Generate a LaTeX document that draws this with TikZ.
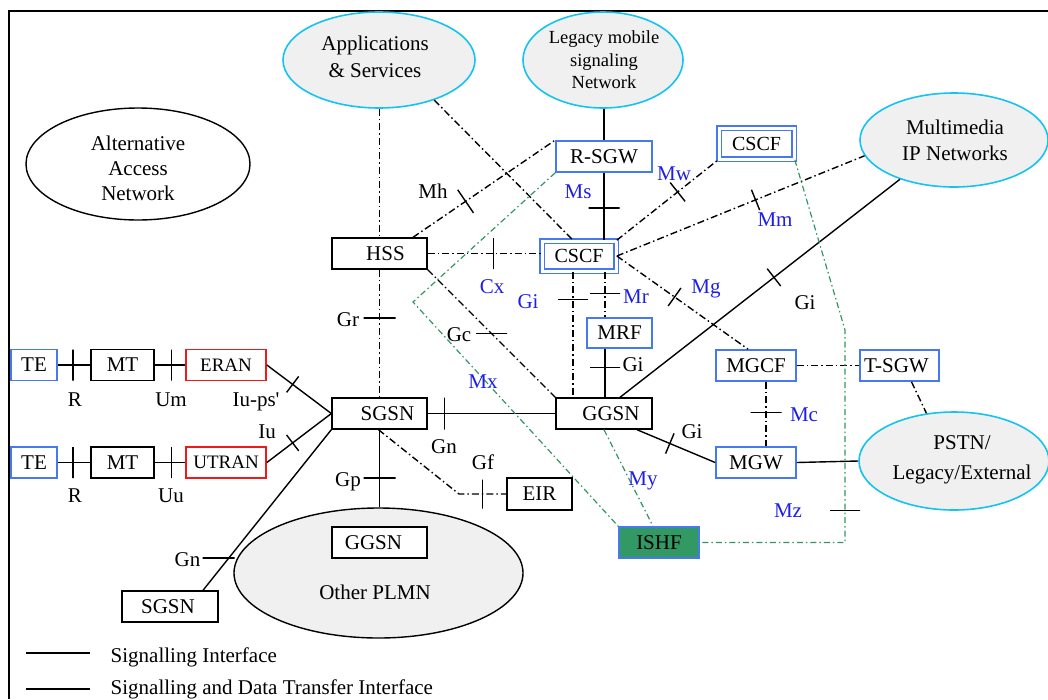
\documentclass[tikz,border=0pt]{standalone}
\usepackage{fontspec}
\setmainfont{Liberation Serif}
\newfontfamily\plainserif{Liberation Serif}[Ligatures=TeXOff]
\usetikzlibrary{shapes.geometric,calc}

\definecolor{boxblue}{RGB}{70,120,240}
\definecolor{lblblue}{RGB}{30,30,235}
\definecolor{netcyan}{RGB}{20,195,240}
\definecolor{netfill}{RGB}{240,240,240}
\definecolor{ifgreen}{RGB}{50,150,100}
\definecolor{ishfgreen}{RGB}{50,152,100}
\definecolor{ranred}{RGB}{240,25,25}

\begin{document}
\begin{tikzpicture}[x=1pt,y=-1pt,
  line width=1.4pt,
  txt/.style={font=\fontsize{21}{25}\selectfont},
  lbl/.style={inner sep=0pt, txt, text height=13.9pt, text depth=0pt},
  blbl/.style={lbl, text=lblblue},
  box/.style={draw, line width=1.4pt, fill=white, inner sep=0pt, txt,
    text height=13.9pt, text depth=0pt, minimum height=31pt, minimum width=#1},
  bbox/.style={box=#1, draw=boxblue, line width=1.7pt},
  rbox/.style={box=#1, draw=ranred, line width=1.7pt,
    font=\fontsize{19}{23}\selectfont, text height=12.6pt},
  dbox/.style={bbox=#1, double=white, double distance=3pt, line width=1.7pt,
    font=\fontsize{20}{24}\selectfont, text height=13.2pt},
  net/.style={ellipse, draw=netcyan, fill=netfill, line width=1.6pt, inner sep=0pt},
  onet/.style={ellipse, draw=black, line width=1.4pt, inner sep=0pt},
  ntxt/.style={align=center, inner sep=0pt},
  dd/.style={dash pattern=on 7pt off 3pt on 1.5pt off 3pt},
  gdd/.style={draw=ifgreen, line width=1.2pt, dash pattern=on 6pt off 3pt on 1.5pt off 3pt},
  xbar/.style={draw=black, solid, line width=1.4pt, sloped, minimum width=0pt,
    minimum height=#1, inner sep=0pt, outer sep=0pt, fill=none},
  hbar/.style={draw=black, solid, line width=1.4pt, minimum width=#1,
    minimum height=0pt, inner sep=0pt, outer sep=0pt, fill=none},
]
\useasboundingbox (0,0) rectangle (1048,699);

% outer frame
\draw[line width=2.2pt] (9,699) -- (9,11) -- (1048,11);

% networks
\node[onet, minimum width=224pt, minimum height=112pt] (alt) at (138,164) {};
\node[ntxt, font=\fontsize{21}{25}\selectfont] (alttxt) at (138,168) {Alternative\\Access\\Network};
\node[net, minimum width=192pt, minimum height=96pt] (apps) at (379,60) {};
\node[ntxt, font=\fontsize{21}{27}\selectfont] (appstxt) at (375,56.5) {Applications\\\& Services};
\node[net, minimum width=160pt, minimum height=96pt] (legacy) at (603,60) {};
\node[ntxt, font=\fontsize{18.5}{22.5}\selectfont] (legacytxt) at (604,60) {Legacy mobile\\signaling\\Network};
\node[net, minimum width=188pt, minimum height=94pt] (mm) at (954,140) {};
\node[ntxt, font=\fontsize{21}{26}\selectfont] (mmtxt) at (955,140) {Multimedia\\IP Networks};
\node[net, minimum width=190pt, minimum height=98pt] (pstn) at (954,461) {};
\node[ntxt, font=\fontsize{21}{30}\selectfont] (pstntxt) at (962,460) {PSTN/\\Legacy/External};
\node[onet, fill=netfill, minimum width=289pt, minimum height=130pt] (plmn) at (378.5,573) {};
\node[lbl] (plmntxt) at (375,593) {Other PLMN};

% network elements
\node[bbox=46pt] (te1) at (34,365) {TE};
\node[box=63pt] (mt1) at (122.5,365) {MT};
\node[rbox=80pt] (eran) at (226,365) {ERAN};
\node[bbox=46pt] (te2) at (34,462.5) {TE};
\node[box=63pt] (mt2) at (122.5,462.5) {MT};
\node[rbox=80pt] (utran) at (226,462.5) {UTRAN};
\node[box=95pt] (sgsn) at (379.5,413.5) {\hspace*{16pt}SGSN};
\node[box=95pt] (hss) at (379.5,253.5) {\hspace*{12pt}HSS};
\node[box=96pt] (ggsn) at (604,413.5) {\hspace*{14pt}GGSN};
\node[dbox=74pt, minimum height=30pt] (cscf) at (579,256) {CSCF};
\node[bbox=96pt] (rsgw) at (604,156.5) {R-SGW};
\node[dbox=75pt] (cscftwo) at (756.5,143.5) {CSCF};
\node[bbox=65pt, minimum height=30pt] (mrf) at (619.5,333) {MRF};
\node[bbox=80pt] (mgcf) at (756,365.5) {MGCF};
\node[bbox=79pt] (tsgw) at (899.5,365.5) {T-SGW\hspace*{6pt}};
\node[bbox=80pt] (mgw) at (756,462.5) {MGW};
\node[box=65pt, minimum height=32pt] (eir) at (539.5,494) {EIR};
\node[bbox=80pt, fill=ishfgreen] (ishf) at (659,542.5) {ISHF};
\node[box=95pt] (ggsntwo) at (379.5,542.5) {GGSN\hspace*{12pt}};
\node[box=96pt] (sgsntwo) at (170,606.5) {SGSN\hspace*{4pt}};

% bend points of the routed interfaces
\coordinate (mxbend) at (413,302);
\coordinate (mzbend) at (845,330);
\coordinate (mzcorner) at (845,542.5);
\coordinate (gfbend) at (459,494);

% access side
\draw (te1) -- node[pos=0.47, xbar=31pt]{} (mt1);
\draw (mt1) -- node[pos=0.56, xbar=31pt]{} (eran);
\draw (te2) -- node[pos=0.47, xbar=31pt]{} (mt2);
\draw (mt2) -- node[pos=0.56, xbar=31pt]{} (utran);
\draw (eran.east) -- node[pos=0.4, xbar=20pt]{} (sgsn.west);
\draw (utran.east) -- node[pos=0.4, xbar=20pt]{} (sgsn.west);
\draw (sgsn.south west) -- node[pos=0.8, hbar=32pt, xshift=-10pt]{} ($(sgsntwo.north)+(33,0)$);

% packet core
\draw (sgsn.south) -- node[pos=0.62, xbar=32pt]{} (sgsn.south |- plmn.north);
\draw (sgsn.east) -- node[pos=0.13, xbar=32pt]{} (ggsn.west);
\draw[dd] (hss.south) -- node[pos=0.38, xbar=32pt]{} (sgsn.north);
\draw[dd] (hss.north |- apps.south) -- (hss.north);
\draw[dd] (hss.east) -- node[pos=0.58, xbar=31pt]{} (hss.east -| cscf.west);
\draw[dd] (apps.324) -- ($(cscf.north)+(-6,0)$);
\draw[dd] ($(hss.north)+(33.5,0)$) -- node[pos=0.37, xbar=28pt]{} (rsgw.north west);
\draw (rsgw.north |- legacy.south) -- (rsgw.north);
\draw (rsgw.south) -- node[pos=0.52, xbar=31pt]{} (rsgw.south |- cscf.north);
\draw[dd] (cscf.north east) -- node[pos=0.6, xbar=24pt]{} (cscftwo.south west);
\draw[dd] (cscf.east) -- node[pos=0.56, xbar=22pt]{} (mm.190);
\draw[dd] (cscf.east) -- node[pos=0.44, xbar=22pt]{} ($(mgcf.north)+(-8,0)$);
\draw[dd] ($(cscf.south)+(-6,0)$) -- node[pos=0.22, xbar=30pt]{} ($(ggsn.north)+(-31,0)$);
\draw[dd] ($(cscf.south)+(26,0)$) -- node[pos=0.48, xbar=30pt]{} ($(mrf.north)+(-14.5,0)$);
\draw ($(mrf.south)+(-14.5,0)$) -- node[pos=0.38, xbar=30pt]{} ($(ggsn.north)+(1,0)$);
\draw[dd] (hss.south east) -- node[pos=0.5, hbar=31pt]{} (ggsn.north west);
\draw ($(ggsn.north)+(16,0)$) -- node[pos=0.55, xbar=22pt]{} (mm.216);
\draw ($(ggsn.south)+(33,0)$) -- node[pos=0.42, xbar=22pt]{} (mgw.west);
\draw[dd] ($(mgcf.south)+(10,0)$) -- node[pos=0.48, xbar=31pt]{} ($(mgw.north)+(10,0)$);
\draw[dd] (mgcf.east) -- (tsgw.west);
\draw[dd] ($(tsgw.south)+(12,0)$) -- (pstn.120);
\draw (mgw.east) -- (pstn.west);
\draw[dd] ($(sgsn.south)+(-1,0)$) -- (gfbend) -- node[pos=0.5, xbar=29pt]{} (eir.west);

% ISHF interfaces
\draw[gdd] (rsgw.south west) -- (mxbend) -- (ishf.north west);
\draw[gdd] (ggsn.south) -- ($(ishf.north)+(-6,0)$);
\draw[gdd] (cscftwo.south east) -- (mzbend) -- node[pos=0.85, xbar=30pt]{} (mzcorner) -- (ishf.east);

% interface names
\node[lbl] (lR1) at (75,400) {R};
\node[lbl] (lUm) at (171,400) {Um};
\node[lbl] (lR2) at (75,496) {R};
\node[lbl] (lUu) at (171,496) {Uu};
\node[lbl] (lIups) at (256,400) {\plainserif Iu-ps'};
\node[lbl] (lIu) at (267,432) {Iu};
\node[lbl, anchor=east] (lGnA) at (201,560) {Gn};
\node[lbl] (lGp) at (348,480) {Gp};
\node[lbl] (lGnB) at (444,447) {Gn};
\node[lbl] (lGr) at (348,320) {Gr};
\node[lbl] (lMh) at (433,192) {Mh};
\node[blbl] (lMs) at (578,192) {Ms};
\node[blbl] (lCx) at (492,287) {Cx};
\node[blbl] (lGiA) at (528,302) {Gi};
\node[blbl] (lMr) at (636,297) {Mr};
\node[lbl] (lGiB) at (633,365) {Gi};
\node[lbl] (lGc) at (459,335) {Gc};
\node[blbl] (lMx) at (483,382) {Mx};
\node[blbl] (lMw) at (674,174) {Mw};
\node[blbl] (lMm) at (775,220) {Mm};
\node[blbl] (lMg) at (706,287) {Mg};
\node[lbl] (lGiC) at (805,303) {Gi};
\node[lbl] (lGiD) at (692,432) {Gi};
\node[blbl] (lMc) at (804,415) {Mc};
\node[blbl] (lMy) at (643,479) {My};
\node[blbl] (lMz) at (788,511) {Mz};
\node[lbl] (lGf) at (483,463) {Gf};

% legend
\coordinate (legAa) at (26,653);
\coordinate (legAb) at (90,653);
\coordinate (legBa) at (26,689);
\coordinate (legBb) at (90,689);
\draw (legAa) -- (legAb);
\draw (legBa) -- (legBb);
\node[lbl, anchor=west] (legAtxt) at (110,656) {Signalling Interface};
\node[lbl, anchor=west] (legBtxt) at (110,688) {Signalling and Data Transfer Interface};
\end{tikzpicture}
\end{document}
